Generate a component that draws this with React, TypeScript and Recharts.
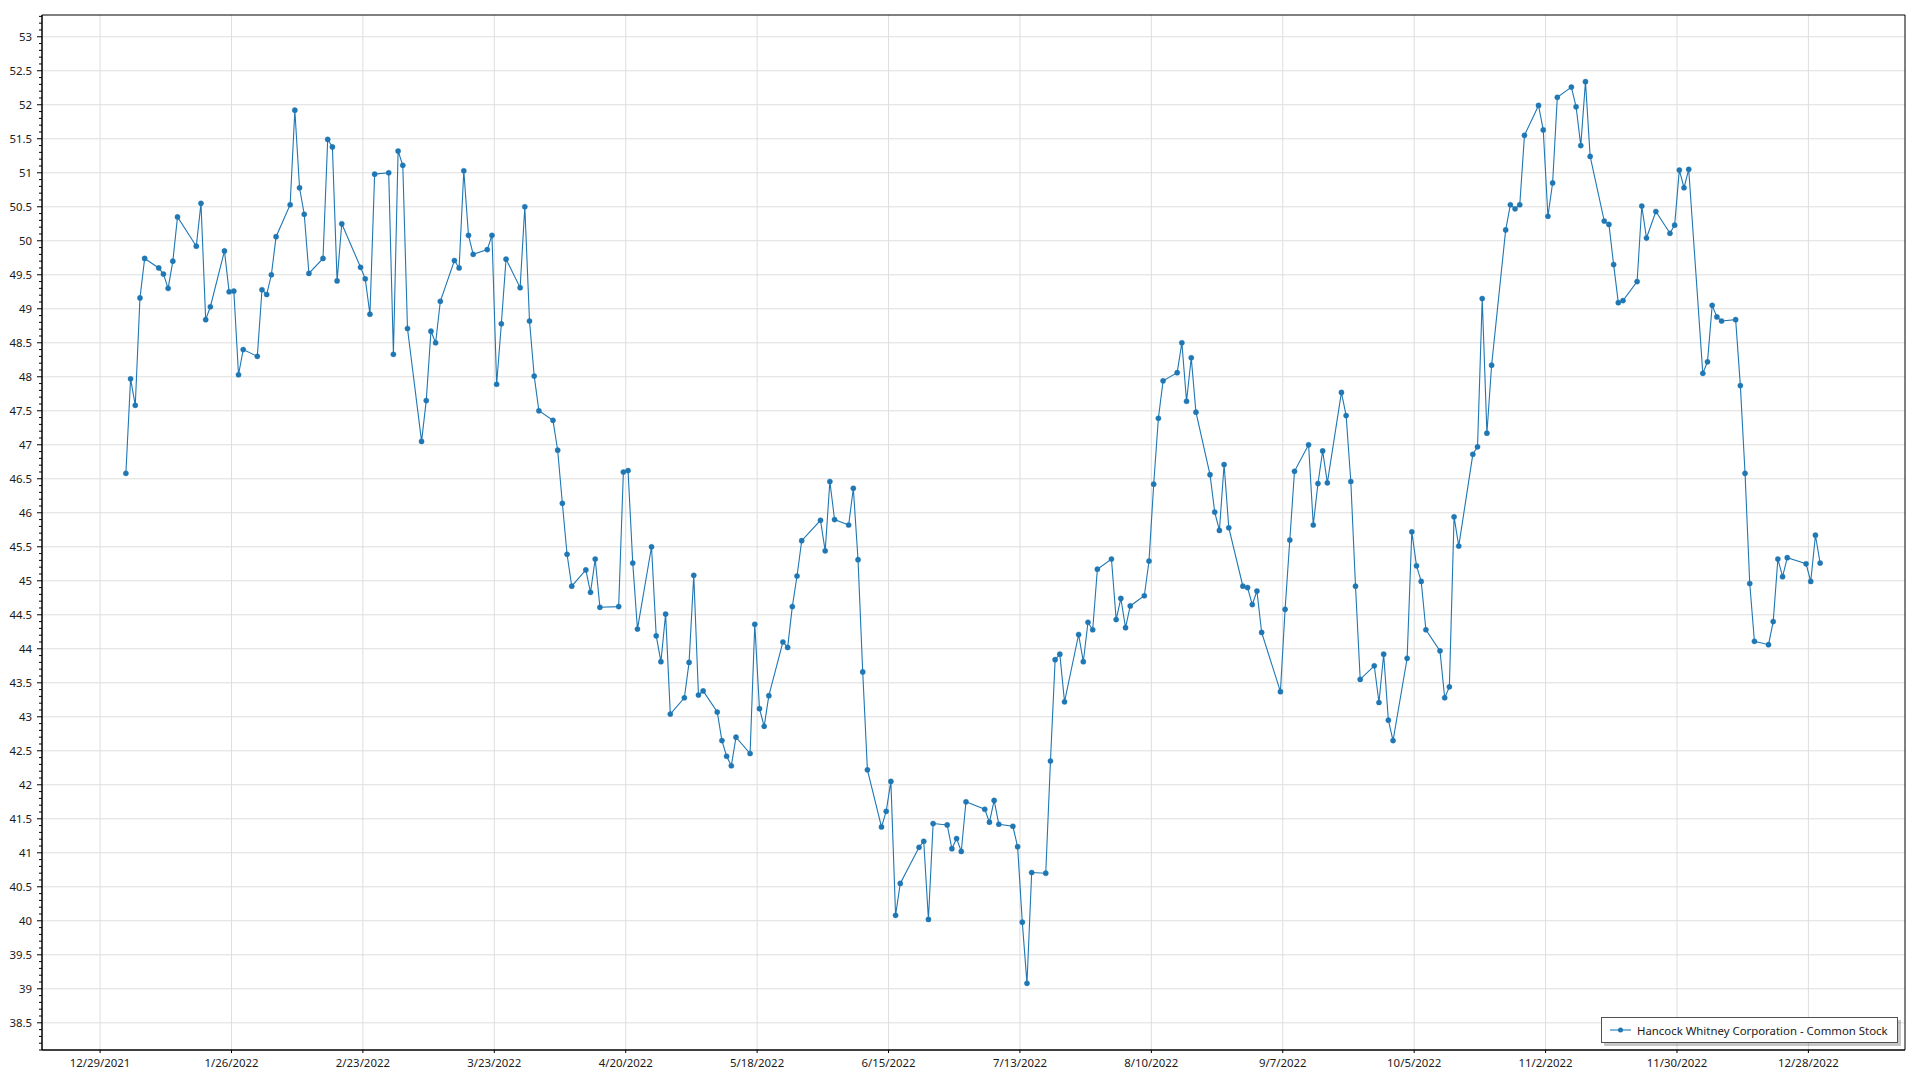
import React from 'react';
import { LineChart, Line, XAxis, YAxis, CartesianGrid, Legend, ReferenceArea } from 'recharts';

const SERIES_NAME = 'Hancock Whitney Corporation - Common Stock';

const tradeDates = [
  '2022-01-03','2022-01-04','2022-01-05','2022-01-06','2022-01-07','2022-01-10','2022-01-11','2022-01-12','2022-01-13','2022-01-14',
  '2022-01-18','2022-01-19','2022-01-20','2022-01-21','2022-01-24','2022-01-25','2022-01-26','2022-01-27','2022-01-28','2022-01-31',
  '2022-02-01','2022-02-02','2022-02-03','2022-02-04','2022-02-07','2022-02-08','2022-02-09','2022-02-10','2022-02-11','2022-02-14',
  '2022-02-15','2022-02-16','2022-02-17','2022-02-18','2022-02-22','2022-02-23','2022-02-24','2022-02-25','2022-02-28',
  '2022-03-01','2022-03-02','2022-03-03','2022-03-04','2022-03-07','2022-03-08','2022-03-09','2022-03-10','2022-03-11','2022-03-14',
  '2022-03-15','2022-03-16','2022-03-17','2022-03-18','2022-03-21','2022-03-22','2022-03-23','2022-03-24','2022-03-25','2022-03-28',
  '2022-03-29','2022-03-30','2022-03-31',
  '2022-04-01','2022-04-04','2022-04-05','2022-04-06','2022-04-07','2022-04-08','2022-04-11','2022-04-12','2022-04-13','2022-04-14',
  '2022-04-18','2022-04-19','2022-04-20','2022-04-21','2022-04-22','2022-04-25','2022-04-26','2022-04-27','2022-04-28','2022-04-29',
  '2022-05-02','2022-05-03','2022-05-04','2022-05-05','2022-05-06','2022-05-09','2022-05-10','2022-05-11','2022-05-12','2022-05-13',
  '2022-05-16','2022-05-17','2022-05-18','2022-05-19','2022-05-20','2022-05-23','2022-05-24','2022-05-25','2022-05-26','2022-05-27',
  '2022-05-31',
  '2022-06-01','2022-06-02','2022-06-03','2022-06-06','2022-06-07','2022-06-08','2022-06-09','2022-06-10','2022-06-13','2022-06-14',
  '2022-06-15','2022-06-16','2022-06-17','2022-06-21','2022-06-22','2022-06-23','2022-06-24','2022-06-27','2022-06-28','2022-06-29',
  '2022-06-30',
  '2022-07-01','2022-07-05','2022-07-06','2022-07-07','2022-07-08','2022-07-11','2022-07-12','2022-07-13','2022-07-14','2022-07-15',
  '2022-07-18','2022-07-19','2022-07-20','2022-07-21','2022-07-22','2022-07-25','2022-07-26','2022-07-27','2022-07-28','2022-07-29',
  '2022-08-01','2022-08-02','2022-08-03','2022-08-04','2022-08-05','2022-08-08','2022-08-09','2022-08-10','2022-08-11','2022-08-12',
  '2022-08-15','2022-08-16','2022-08-17','2022-08-18','2022-08-19','2022-08-22','2022-08-23','2022-08-24','2022-08-25','2022-08-26',
  '2022-08-29','2022-08-30','2022-08-31',
  '2022-09-01','2022-09-02','2022-09-06','2022-09-07','2022-09-08','2022-09-09','2022-09-12','2022-09-13','2022-09-14','2022-09-15',
  '2022-09-16','2022-09-19','2022-09-20','2022-09-21','2022-09-22','2022-09-23','2022-09-26','2022-09-27','2022-09-28','2022-09-29',
  '2022-09-30',
  '2022-10-03','2022-10-04','2022-10-05','2022-10-06','2022-10-07','2022-10-10','2022-10-11','2022-10-12','2022-10-13','2022-10-14',
  '2022-10-17','2022-10-18','2022-10-19','2022-10-20','2022-10-21','2022-10-24','2022-10-25','2022-10-26','2022-10-27','2022-10-28',
  '2022-10-31',
  '2022-11-01','2022-11-02','2022-11-03','2022-11-04','2022-11-07','2022-11-08','2022-11-09','2022-11-10','2022-11-11','2022-11-14',
  '2022-11-15','2022-11-16','2022-11-17','2022-11-18','2022-11-21','2022-11-22','2022-11-23','2022-11-25','2022-11-28','2022-11-29',
  '2022-11-30',
  '2022-12-01','2022-12-02','2022-12-05','2022-12-06','2022-12-07','2022-12-08','2022-12-09','2022-12-12','2022-12-13','2022-12-14',
  '2022-12-15','2022-12-16','2022-12-19','2022-12-20','2022-12-21','2022-12-22','2022-12-23','2022-12-27','2022-12-28','2022-12-29',
  '2022-12-30',
];

const closePrices = [
  46.58, 47.97, 47.58, 49.16, 49.74, 49.60, 49.51, 49.30, 49.70, 50.35,
  49.92, 50.55, 48.84, 49.03, 49.85, 49.25, 49.26, 48.03, 48.40, 48.30,
  49.28, 49.21, 49.50, 50.06, 50.53, 51.92, 50.78, 50.39, 49.52, 49.74,
  51.49, 51.38, 49.41, 50.25, 49.61, 49.44, 48.92, 50.98, 51.00,
  48.33, 51.32, 51.11, 48.71, 47.05, 47.65, 48.67, 48.50, 49.11, 49.71,
  49.60, 51.03, 50.08, 49.80, 49.87, 50.08, 47.89, 48.78, 49.73, 49.31,
  50.50, 48.82, 48.01,
  47.50, 47.36, 46.92, 46.14, 45.39, 44.92, 45.16, 44.83, 45.32, 44.61,
  44.62, 46.60, 46.62, 45.26, 44.29, 45.50, 44.19, 43.81, 44.51, 43.04,
  43.28, 43.80, 45.08, 43.32, 43.38, 43.07, 42.65, 42.42, 42.28, 42.70,
  42.46, 44.36, 43.12, 42.86, 43.31, 44.10, 44.02, 44.62, 45.07, 45.59,
  45.89,
  45.44, 46.46, 45.90, 45.82, 46.36, 45.31, 43.66, 42.22, 41.38, 41.61,
  42.05, 40.08, 40.55, 41.08, 41.17, 40.02, 41.43, 41.41, 41.06, 41.21,
  41.02,
  41.75, 41.64, 41.45, 41.77, 41.42, 41.39, 41.09, 39.98, 39.08, 40.71,
  40.70, 42.35, 43.84, 43.92, 43.22, 44.21, 43.81, 44.39, 44.28, 45.17,
  45.32, 44.43, 44.74, 44.31, 44.63, 44.78, 45.29, 46.42, 47.39, 47.94,
  48.06, 48.50, 47.64, 48.28, 47.48, 46.56, 46.01, 45.74, 46.71, 45.78,
  44.92, 44.90, 44.65,
  44.85, 44.24, 43.37, 44.58, 45.60, 46.61, 47.00, 45.82, 46.43, 46.91,
  46.44, 47.77, 47.43, 46.46, 44.92, 43.55, 43.75, 43.21, 43.92, 42.95,
  42.65,
  43.86, 45.72, 45.22, 44.99, 44.28, 43.97, 43.28, 43.44, 45.94, 45.51,
  46.86, 46.97, 49.15, 47.17, 48.17, 50.16, 50.53, 50.47, 50.53, 51.55,
  51.99,
  51.63, 50.36, 50.85, 52.11, 52.26, 51.97, 51.40, 52.34, 51.24, 50.29,
  50.24, 49.65, 49.09, 49.12, 49.40, 50.51, 50.04, 50.43, 50.11, 50.23,
  51.04,
  50.78, 51.05, 48.05, 48.22, 49.05, 48.88, 48.82, 48.84, 47.87, 46.58,
  44.96, 44.11, 44.06, 44.40, 45.32, 45.06, 45.34, 45.25, 44.99, 45.67,
  45.26,
];

const xTickLabels = [
  '12/29/2021', '1/26/2022', '2/23/2022', '3/23/2022', '4/20/2022', '5/18/2022', '6/15/2022',
  '7/13/2022', '8/10/2022', '9/7/2022', '10/5/2022', '11/2/2022', '11/30/2022', '12/28/2022',
];

const yTickLabels = [
  '38.5', '39', '39.5', '40', '40.5', '41', '41.5', '42', '42.5', '43', '43.5', '44', '44.5', '45', '45.5',
  '46', '46.5', '47', '47.5', '48', '48.5', '49', '49.5', '50', '50.5', '51', '51.5', '52', '52.5', '53',
];

const xDomainBounds = ['2021-12-16T15:00:00Z', '2023-01-17T14:00:00Z'];
const yDomainBounds = [38.1, 53.32];

const FONT = '"Noto Sans", "DejaVu Sans", sans-serif';
const FONT_SIZE = 11.4;
const LINE_COLOR = '#1f77b4';

const parseLabelDate = (s: string) => {
  const [m, d, y] = s.split('/').map(Number);
  return Date.UTC(y, m - 1, d);
};

const data = tradeDates.map((d, i) => ({ t: Date.parse(d + 'T12:00:00Z'), close: closePrices[i] }));
const xTicks = xTickLabels.map(parseLabelDate);
const xLabelByTime: Record<number, string> = {};
xTickLabels.forEach((l, i) => { xLabelByTime[xTicks[i]] = l; });
const xDomain = xDomainBounds.map((s) => Date.parse(s));

const yMajor = yTickLabels.map(Number);
// minor ticks every 0.1 between/around the labelled ticks
const yAllTicks: number[] = [];
for (let k = Math.ceil(yDomainBounds[0] * 10); k <= Math.floor(yDomainBounds[1] * 10); k++) {
  yAllTicks.push(k / 10);
}

const YTick = (props: any) => {
  const { x, y, payload } = props;
  const v = payload.value as number;
  const idx = yMajor.findIndex((m) => Math.abs(m - v) < 1e-6);
  const major = idx >= 0;
  return (
    <g>
      <line x1={x} x2={x - (major ? 5 : 3)} y1={y} y2={y} stroke="#000" strokeWidth={1} />
      {major && (
        <text x={x - 10} y={y} dy="0.35em" textAnchor="end" fontFamily={FONT} fontSize={FONT_SIZE} fill="#1a1a1a">
          {yTickLabels[idx]}
        </text>
      )}
    </g>
  );
};

const LegendBox = () => (
  <div
    style={{
      boxSizing: 'border-box',
      width: 297,
      height: 26,
      border: '1.5px solid #505050',
      background: '#fff',
      boxShadow: '3px 3px 0 rgba(0,0,0,0.22)',
      display: 'flex',
      alignItems: 'center',
      fontFamily: FONT,
      fontSize: FONT_SIZE,
      color: '#1a1a1a',
      whiteSpace: 'nowrap',
    }}
  >
    <svg width={21} height={10} style={{ marginLeft: 8, marginRight: 6, flex: 'none' }}>
      <line x1={0} x2={21} y1={5} y2={5} stroke={LINE_COLOR} strokeWidth={1.1} />
      <circle cx={10.5} cy={5} r={2.5} fill={LINE_COLOR} />
    </svg>
    <span>{SERIES_NAME}</span>
  </div>
);

export default function App() {
  return (
    <div style={{ position: 'absolute', left: 0, top: 0, width: 1920, height: 1080, background: '#fff' }}>
      <LineChart width={1920} height={1080} data={data} margin={{ top: 15, right: 15, bottom: 0, left: 2 }}>
        <CartesianGrid stroke="#dedede" strokeWidth={1} horizontalValues={yMajor} verticalValues={xTicks} />
        <XAxis
          dataKey="t"
          type="number"
          domain={xDomain}
          allowDataOverflow
          ticks={xTicks}
          interval={0}
          height={30}
          tickSize={3}
          tickMargin={6}
          tickFormatter={(v: number) => xLabelByTime[v] ?? ''}
          tick={{ fontFamily: FONT, fontSize: FONT_SIZE, fill: '#1a1a1a' }}
          axisLine={{ stroke: '#000', strokeWidth: 1 }}
          tickLine={{ stroke: '#000' }}
        />
        <YAxis
          type="number"
          domain={yDomainBounds}
          allowDataOverflow
          ticks={yAllTicks}
          interval={0}
          width={40}
          tickSize={0}
          tickMargin={0}
          tickLine={false}
          tick={<YTick />}
          axisLine={{ stroke: '#000', strokeWidth: 1 }}
        />
        <ReferenceArea
          x1={xDomain[0]}
          x2={xDomain[1]}
          y1={yDomainBounds[0]}
          y2={yDomainBounds[1]}
          fill="none"
          fillOpacity={0}
          stroke="#000"
          strokeWidth={1}
          ifOverflow="visible"
        />
        <Line
          type="linear"
          dataKey="close"
          name={SERIES_NAME}
          stroke={LINE_COLOR}
          strokeWidth={1.1}
          dot={{ r: 2.6, fill: LINE_COLOR, stroke: LINE_COLOR, strokeWidth: 0.4 }}
          activeDot={false}
          isAnimationActive={false}
        />
        <Legend
          layout="horizontal"
          verticalAlign="middle"
          align="center"
          content={() => <LegendBox />}
          wrapperStyle={{ position: 'absolute', left: 1601, top: 1017, width: 300, height: 30 }}
        />
      </LineChart>
    </div>
  );
}
